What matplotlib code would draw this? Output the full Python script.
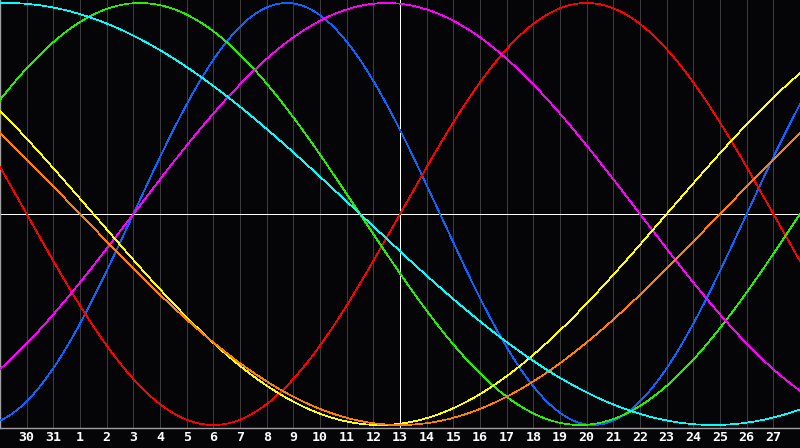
import numpy as np
import matplotlib
matplotlib.use("Agg")
import matplotlib.pyplot as plt

# Biorhythm data
cycle_names = ["Physical", "Emotional", "Intellectual", "Intuitive", "Aesthetic", "Awareness", "Spiritual"]
cycle_periods = [23, 28, 33, 38, 43, 48, 53]
cycle_colors = ["#0a64ff", "#ff0000", "#22f000", "#ff00ff", "#ffff00", "#ff8000", "#00ffff"]
days_since_birth_today = 14868
# day labels relative to "today" (the 13th)
day_offsets = list(range(-14, 15))
day_labels = ["30", "31"] + [str(d) for d in range(1, 28)]

W, H = 800, 448
fig = plt.figure(figsize=(W / 100, H / 100), dpi=100, facecolor="#050508")
axis_px = 428
ax = fig.add_axes([0, 1 - axis_px / H, 1, axis_px / H])
ax.set_facecolor("#050508")
ax.set_xlim(-15, 15)
lim = 214 / 211
ax.set_ylim(-lim, lim)

for d in day_offsets:
    ax.axvline(d, color="#3c3c3c", lw=0.5, antialiased=False, zorder=1)

t = np.linspace(-15, 15, 1601)
for name, p, c in zip(cycle_names, cycle_periods, cycle_colors):
    v = np.sin(2 * np.pi * (days_since_birth_today + t) / p)
    ax.plot(t, v, color=c, lw=0.5, antialiased=False, zorder=3, label=name)

ax.axhline(0, color="white", lw=0.6, antialiased=False, zorder=2)
ax.axvline(0, color="white", lw=0.6, antialiased=False, zorder=2)

for s in ["top", "right"]:
    ax.spines[s].set_visible(False)
for s in ["left", "bottom"]:
    ax.spines[s].set_color("#a0a0a0")
    ax.spines[s].set_linewidth(1.0)

ax.set_yticks([])
ax.set_xticks(day_offsets)
ax.set_xticklabels(day_labels, family="DejaVu Sans Mono", fontweight="bold",
                   fontsize=9.5, color="white")
ax.tick_params(axis="x", length=0, pad=2)

fig.savefig("out.png", dpi=100, facecolor=fig.get_facecolor())
